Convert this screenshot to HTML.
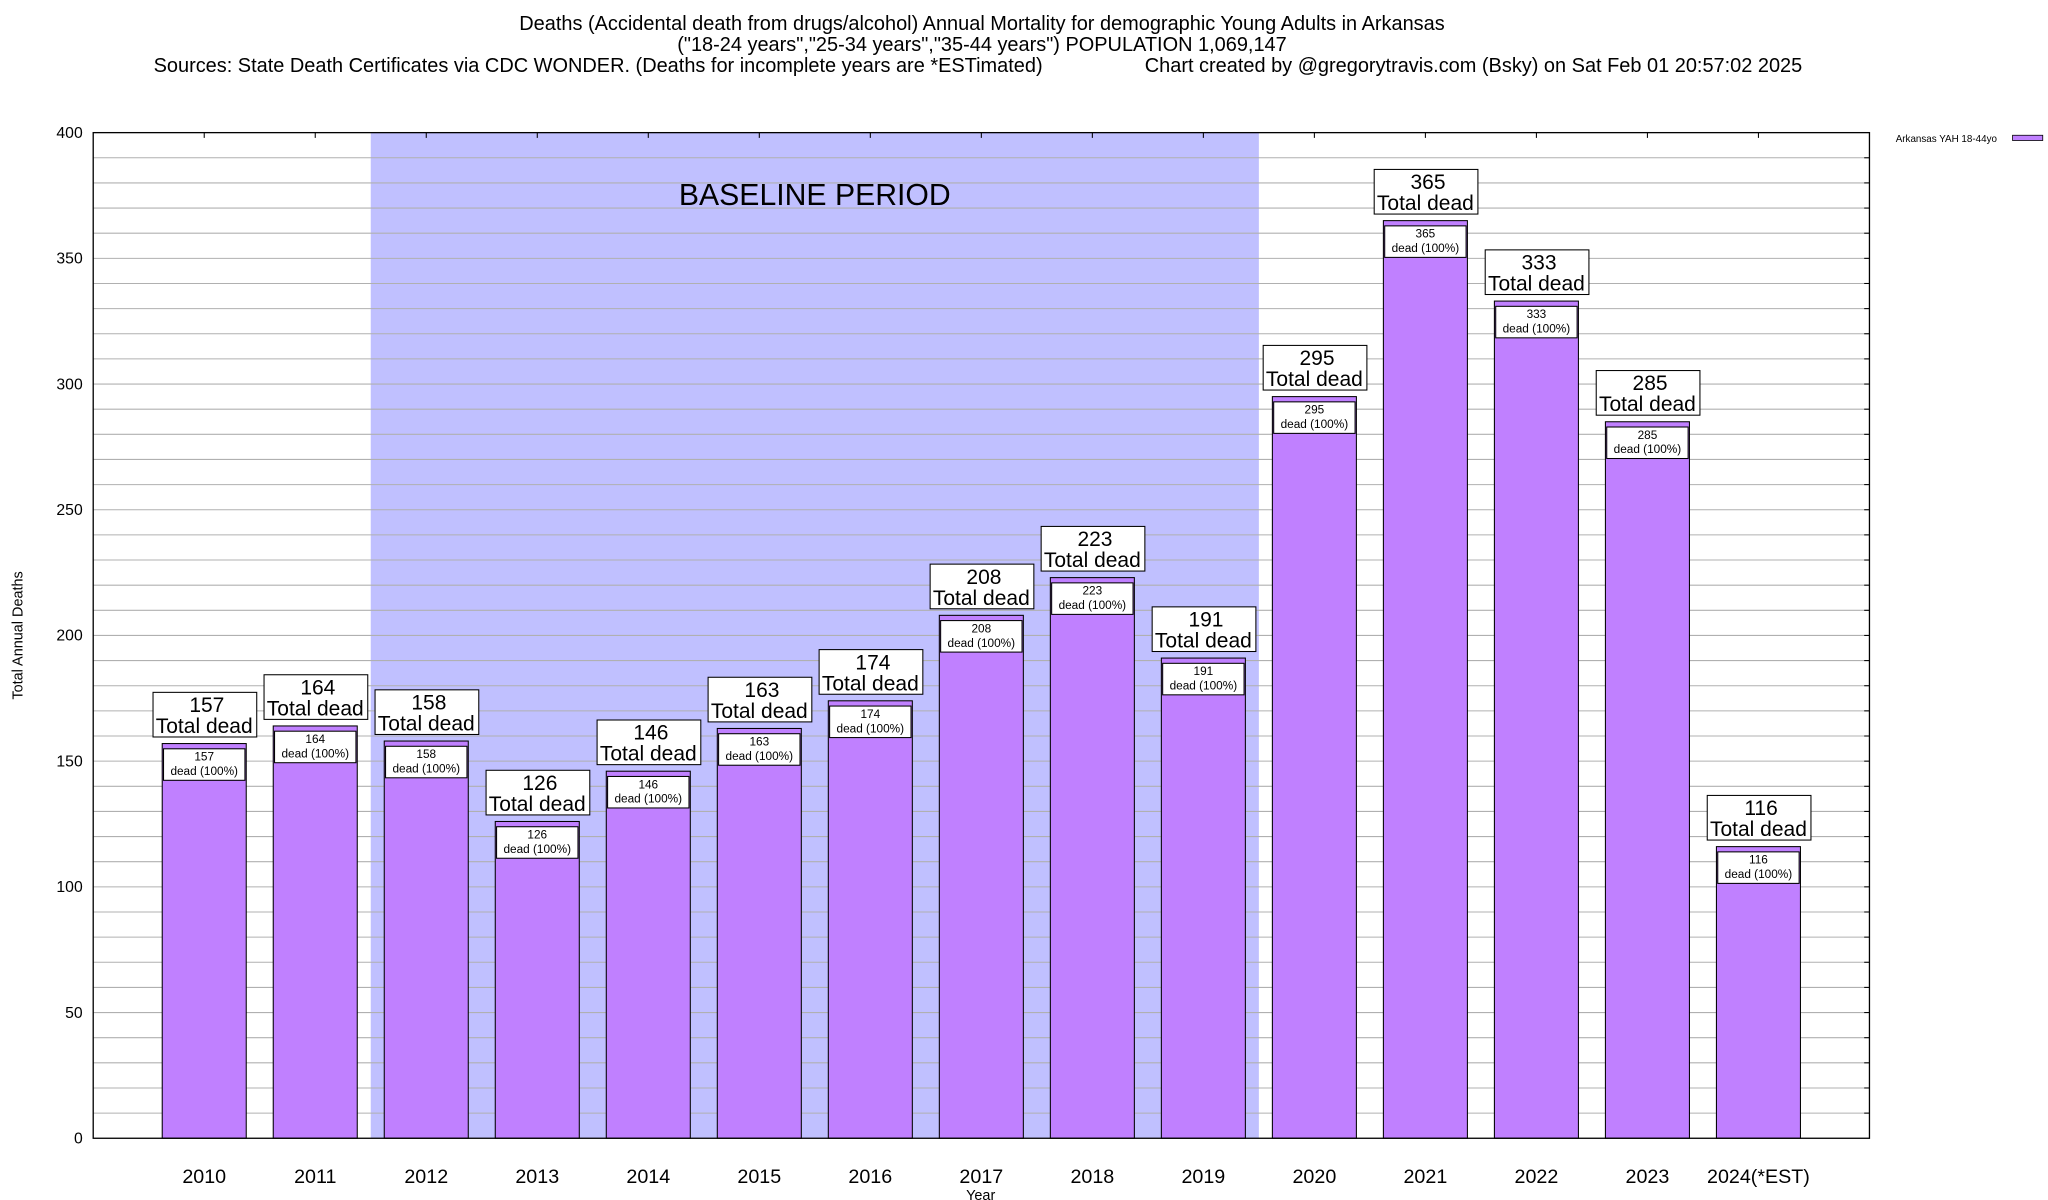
<!DOCTYPE html>
<html><head><meta charset="utf-8"><style>
html,body{margin:0;padding:0;background:#fff;}
svg{display:block;font-family:"Liberation Sans",sans-serif;}
</style></head><body>
<svg id="chart" width="2048" height="1200" viewBox="0 0 1560 914" xmlns="http://www.w3.org/2000/svg">
<g font-size="15.2" fill="#000">
<text x="748" y="23" text-anchor="middle">Deaths (Accidental death from drugs/alcohol) Annual Mortality for demographic Young Adults in Arkansas</text>
<text x="748" y="39" text-anchor="middle">("18-24 years","25-34 years","35-44 years") POPULATION 1,069,147</text>
<text x="117" y="55">Sources: State Death Certificates via CDC WONDER. (Deaths for incomplete years are *ESTimated)</text>
<text x="872" y="55">Chart created by @gregorytravis.com (Bsky) on Sat Feb 01 20:57:02 2025</text>
</g>
<g id="plot"></g>
<text x="747" y="914" text-anchor="middle" font-size="11">Year</text>
<text transform="translate(17,484) rotate(-90)" text-anchor="middle" font-size="11">Total Annual Deaths</text>
<g>
<text x="1444" y="108" font-size="7.5">Arkansas YAH 18-44yo</text>
<rect x="1533" y="103" width="23" height="4" fill="#c080ff" stroke="#000" stroke-width="0.6"/>
</g>
</svg>
<script>
const categories = ["2010","2011","2012","2013","2014","2015","2016","2017","2018","2019","2020","2021","2022","2023","2024(*EST)"];
const deaths = [157,164,158,126,146,163,174,208,223,191,295,365,333,285,116];
const yTicks = [0,50,100,150,200,250,300,350,400];
const baselineStart = 2; // index of first baseline year
const baselineEnd = 9;   // index of last baseline year

const L=71,R=1424,T=101,B=867;
const NS="http://www.w3.org/2000/svg";
const yMax=400;
function y(v){return B-(v/yMax)*(B-T);}
const step=(R-L)/(categories.length+1);
function x(i){return L+step*(i+1);}
const g=document.getElementById('plot');
function mk(tag,attrs,parent){const e=document.createElementNS(NS,tag);for(const k in attrs)e.setAttribute(k,attrs[k]);(parent||g).appendChild(e);return e;}

const sh=mk('rect',{x:x(baselineStart)-step/2,y:T,width:(baselineEnd-baselineStart+1)*step,height:B-T,fill:'#c0c0ff'});


const bt=mk('text',{x:(x(baselineStart)+x(baselineEnd))/2,y:156,'text-anchor':'middle','font-size':23});
bt.textContent='BASELINE PERIOD';



for(let v=10;v<yMax;v+=10){
  const gl=mk('line',{x1:L,x2:R,y1:y(v),y2:y(v),stroke:'#b0b0b0','stroke-width':0.8});
  
  
  const tk=mk('line',{x1:R-4,x2:R,y1:y(v),y2:y(v),stroke:'#000','stroke-width':0.8});
  
  
}
yTicks.forEach(v=>{
  const t=mk('text',{x:63,y:y(v)+4,'text-anchor':'end','font-size':12});
  t.textContent=v;
  
  
});

const bw=64;
categories.forEach((c,i)=>{
  const cx=x(i),v=deaths[i],top=y(v);
  const bar=mk('rect',{x:cx-bw/2,y:top,width:bw,height:B-top,fill:'#c080ff',stroke:'#000','stroke-width':0.8});
  
  
  const ib=mk('rect',{x:cx-bw/2+1,y:top+4,width:bw-2,height:24,fill:'#fff',stroke:'#000','stroke-width':0.8});
  
  
  const t1=mk('text',{x:cx,y:top+13,'text-anchor':'middle','font-size':9});
  t1.textContent=v;
  
  
  const t2=mk('text',{x:cx,y:top+24,'text-anchor':'middle','font-size':9});
  t2.textContent='dead (100%)';
  
  
  const ob=mk('rect',{x:cx-39,y:top-39,width:79,height:34,fill:'#fff',stroke:'#000','stroke-width':0.8});
  
  
  const o1=mk('text',{x:cx+2,y:top-24,'text-anchor':'middle','font-size':16});
  o1.textContent=v;
  
  
  const o2=mk('text',{x:cx,y:top-8,'text-anchor':'middle','font-size':16});
  o2.textContent='Total dead';
  
  
  const xl=mk('text',{x:cx,y:901,'text-anchor':'middle','font-size':15});
  xl.textContent=c;
  
  
  const xt=mk('line',{x1:cx,x2:cx,y1:T,y2:T+4,stroke:'#000','stroke-width':0.8});
  
  
});
const fr=mk('rect',{x:L,y:T,width:R-L,height:B-T,fill:'none',stroke:'#000','stroke-width':1});


</script>
</body></html>
